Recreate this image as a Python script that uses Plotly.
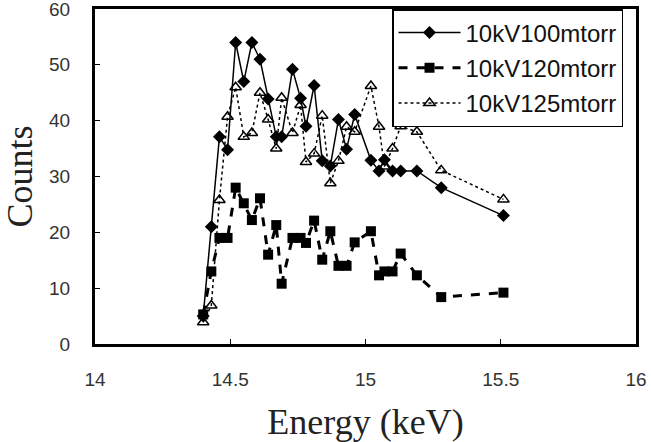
import plotly.graph_objects as go

energy = [14.40, 14.43, 14.46, 14.49, 14.52, 14.55, 14.58, 14.61, 14.64, 14.67,
          14.69, 14.73, 14.76, 14.78, 14.81, 14.84, 14.87, 14.90, 14.93, 14.96,
          15.02, 15.05, 15.07, 15.10, 15.13, 15.19, 15.28, 15.51]

counts_100 = [5, 21, 37.1, 34.8, 54, 47, 54, 51, 43.9, 37.1,
              37.1, 49.2, 44, 39, 46.3, 32.8, 31.9, 40.2, 34.9, 41.1,
              32.9, 31, 33, 31, 31, 31, 28, 23]

counts_120 = [5.3, 13, 19, 19, 28, 25.2, 22.2, 26.1, 16, 21.3,
              10.8, 19, 19, 18.1, 22.1, 15.1, 20.2, 14, 14, 18.2,
              20.2, 12.3, 13, 13, 16.2, 12.3, 8.4, 9.2]

counts_125 = [3.9, 6.9, 25.8, 40.7, 46, 37.1, 37.8, 45, 40.2, 35,
              44.1, 37.8, 42.8, 32.6, 34.1, 40.9, 28.8, 32.8, 38.9, 38,
              46.2, 38.9, 31.8, 35, 39, 38, 31.1, 25.9]

names = ["10kV100mtorr", "10kV120mtorr", "10kV125mtorr"]

fig = go.Figure()
fig.add_trace(go.Scatter(
    x=energy, y=counts_100, name=names[0], mode="lines+markers",
    line=dict(color="black", width=1.5),
    marker=dict(symbol="diamond", size=10, color="black"),
    legendgroup="a"))
fig.add_trace(go.Scatter(
    x=energy, y=counts_120, name=names[1], mode="lines+markers",
    line=dict(color="black", width=3, dash="dash"),
    marker=dict(symbol="square", size=10, color="black"),
    legendgroup="b"))
fig.add_trace(go.Scatter(
    x=energy, y=counts_125, name=names[2], mode="lines+markers",
    line=dict(color="black", width=1.5, dash="dot"),
    marker=dict(symbol="triangle-up-open", size=10, color="black",
                line=dict(width=1.5, color="black")),
    legendgroup="c"))

tick_font = dict(family="Liberation Sans, Arial, sans-serif", size=19, color="#333")
title_font = dict(family="Liberation Serif, Times New Roman, serif", size=36, color="#222")

fig.update_layout(
    width=651, height=442,
    margin=dict(l=95, r=15, t=9, b=98),
    plot_bgcolor="white", paper_bgcolor="white",
    showlegend=True,
    legend=dict(x=0.549, y=1.0, xanchor="left", yanchor="top",
                bordercolor="black", borderwidth=1.5, bgcolor="white",
                font=dict(family="Liberation Sans, Arial, sans-serif", size=24, color="#111"),
                itemwidth=62, tracegroupgap=1, traceorder="grouped"),
)
fig.update_xaxes(range=[14, 16], tickvals=[14, 14.5, 15, 15.5, 16],
                 ticktext=["14", "14.5", "15", "15.5", "16"],
                 showgrid=False, zeroline=False, automargin=False,
                 showline=True, linewidth=3, linecolor="black", mirror=True,
                 ticks="inside", ticklen=5, tickcolor="black", tickwidth=1,
                 ticklabelstandoff=16, tickfont=tick_font, ticklabeloverflow="allow",
                 title=dict(text="Energy (keV)", font=title_font, standoff=22))
fig.update_yaxes(range=[0, 60], dtick=10, automargin=False,
                 showgrid=False, zeroline=False,
                 showline=True, linewidth=3, linecolor="black", mirror=True,
                 ticks="inside", ticklen=5, tickcolor="black", tickwidth=1,
                 ticklabelstandoff=18, tickfont=tick_font, ticklabeloverflow="allow",
                 title=dict(text="Counts", font=title_font, standoff=10))

fig.write_html("out.html")
